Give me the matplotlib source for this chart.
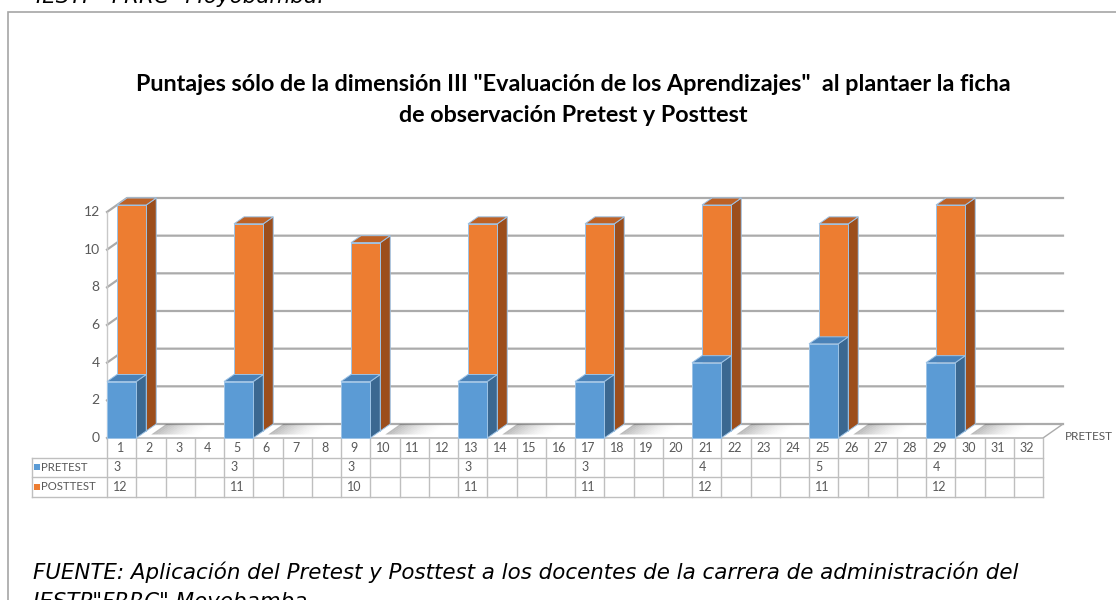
import matplotlib
matplotlib.use("Agg")
import matplotlib.pyplot as plt
from matplotlib.patches import Polygon, Rectangle

# data
categories = [str(i) for i in range(1, 33)]
pretest = [3, None, None, None, 3, None, None, None, 3, None, None, None,
           3, None, None, None, 3, None, None, None, 4, None, None, None,
           5, None, None, None, 4, None, None, None]
posttest = [12, None, None, None, 11, None, None, None, 10, None, None, None,
            11, None, None, None, 11, None, None, None, 12, None, None, None,
            11, None, None, None, 12, None, None, None]
series_names = ["PRETEST", "POSTTEST"]
y_ticks = [0, 2, 4, 6, 8, 10, 12]

title = ('Puntajes sólo de la dimensión III "Evaluación de los Aprendizajes"  al plantaer la ficha\n'
         'de observación Pretest y Posttest')
caption1 = "FUENTE: Aplicación del Pretest y Posttest a los docentes de la carrera de administración del"
caption2 = 'IESTP"FRRC" Moyobamba'
header_text = 'IESTP "FRRC" Moyobamba.'

# colours: front, side, top
blue = ("#5B9BD5", "#3B6891", "#4A82B8")
orange = ("#ED7D31", "#9C4E1C", "#BD6125")
edge = "#9DC3E6"
grid_c = "#ABABAB"
txt_c = "#595959"

W, H = 1116, 600
fig = plt.figure(figsize=(W / 100, H / 100), dpi=100)

# outer frame of the pasted chart
fig.add_artist(Rectangle((8 / W, -0.05), 1.2, 1 - 12 / H + 0.05, transform=fig.transFigure,
                         fill=False, edgecolor="#A6A6A6", linewidth=1.2))

# pixel layout of the plot
px_left, px_right = 107, 1043   # front edge of floor
px_zero, px_top = 438, 212      # value 0 and value 12 on front plane
sx = (px_right - px_left) / len(categories)
sy = (px_zero - px_top) / 12.0
ax_l, ax_r, ax_t, ax_b = 20, 1110, 180, 510
ax = fig.add_axes([ax_l / W, 1 - ax_b / H, (ax_r - ax_l) / W, (ax_b - ax_t) / H])
ax.set_xlim(0.5 - (px_left - ax_l) / sx, 32.5 + (ax_r - px_right) / sx)
ax.set_ylim(-(ax_b - px_zero) / sy, (px_zero - ax_t) / sy)
ax.axis("off")

dx, dy = 10 / sx, 7 / sy   # depth step of one series row
n = len(categories)
x0, x1 = 0.5, n + 0.5
font = "Lato"

# floor and left wall
ax.add_patch(Polygon([(x0, 0), (x1, 0), (x1 + 2 * dx, 2 * dy), (x0 + 2 * dx, 2 * dy)],
                     closed=True, facecolor="white", edgecolor=grid_c, linewidth=1.0, zorder=1))
for v in y_ticks:
    ax.plot([x0, x0 + 2 * dx, x1 + 2 * dx], [v, v + 2 * dy, v + 2 * dy],
            color=grid_c, linewidth=1.6, zorder=1)
    ax.text(x0 - 0.25, v, str(v), ha="right", va="center", fontsize=10,
            color=txt_c, family=font)
ax.plot([x0, x0], [0, y_ticks[-1]], color="#C8C8C8", linewidth=1.0, zorder=1)
ax.plot([x0 + 2 * dx, x0 + 2 * dx], [2 * dy, y_ticks[-1] + 2 * dy],
        color="#C8C8C8", linewidth=1.0, zorder=1)


def draw_bar(xc, v, k, cols, z):
    bx = xc - 0.5 + k * dx
    by = k * dy
    front = [(bx, by), (bx + 1, by), (bx + 1, by + v), (bx, by + v)]
    side = [(bx + 1, by), (bx + 1 + dx, by + dy), (bx + 1 + dx, by + v + dy), (bx + 1, by + v)]
    top = [(bx, by + v), (bx + 1, by + v), (bx + 1 + dx, by + v + dy), (bx + dx, by + v + dy)]
    for pts, c in ((side, cols[1]), (top, cols[2]), (front, cols[0])):
        ax.add_patch(Polygon(pts, closed=True, facecolor=c, edgecolor=edge,
                             linewidth=0.7, zorder=z))


def draw_shadow(xc):
    steps = 16
    length = 1.6
    for j in range(steps):
        a = 0.4 * (1 - j / steps) ** 1.6
        xa = xc + 0.5 + dx + j * length / steps
        xb = xa + length / steps
        ax.add_patch(Polygon([(xa + 0.5 * dx, 0.5 * dy), (xb + 0.5 * dx, 0.5 * dy),
                              (xb + 2 * dx, 2 * dy), (xa + 2 * dx, 2 * dy)],
                             closed=True, facecolor="#555555", alpha=a,
                             edgecolor="none", zorder=2))
    for j in range(8):
        a = 0.15 * (j / 8)
        xb = xc - 0.5 + dx - (7 - j) * 0.08
        xa = xb - 0.08
        ax.add_patch(Polygon([(xa + 0.5 * dx, 0.5 * dy), (xb + 0.5 * dx, 0.5 * dy),
                              (xb + 2 * dx, 2 * dy), (xa + 2 * dx, 2 * dy)],
                             closed=True, facecolor="#777777", alpha=a,
                             edgecolor="none", zorder=2))


for i, (p, q) in enumerate(zip(pretest, posttest)):
    xc = i + 1
    if q is not None:
        draw_shadow(xc)
        draw_bar(xc, q, 1, orange, 3)
    if p is not None:
        draw_bar(xc, p, 0, blue, 4)

# depth axis label
ax.text(x1 + 2 * dx + 0.05, 0.1, series_names[0], ha="left", va="center",
        fontsize=8.5, color=txt_c, family=font)

# data table
rh = 1.04
tl = 0.5 - (px_left - 32) / sx
tab_c = "#BFBFBF"
for r in (1, 2, 3):
    ax.plot([tl, x1], [-r * rh, -r * rh], color=tab_c, linewidth=1.0, zorder=1)
for k in range(n + 1):
    ax.plot([k + 0.5, k + 0.5], [0, -3 * rh], color=tab_c, linewidth=1.0, zorder=1)
ax.plot([tl, tl], [-rh, -3 * rh], color=tab_c, linewidth=1.0, zorder=1)

for i, c in enumerate(categories):
    xc = i + 1
    ax.text(xc - 0.05, -0.5 * rh, c, ha="center", va="center", fontsize=9,
            color=txt_c, family=font)
    if pretest[i] is not None:
        ax.text(xc - 0.15, -1.5 * rh, str(pretest[i]), ha="center", va="center",
                fontsize=9, color=txt_c, family=font)
    if posttest[i] is not None:
        ax.text(xc - 0.05, -2.5 * rh, str(posttest[i]), ha="center", va="center",
                fontsize=9, color=txt_c, family=font)

for r, (name, cols) in enumerate(zip(series_names, (blue, orange))):
    yc = -(1.5 + r) * rh
    ax.add_patch(Rectangle((tl + 0.06, yc - 0.16), 0.2, 0.32, facecolor=cols[0],
                           edgecolor="none", zorder=3))
    ax.text(tl + 0.32, yc, name, ha="left", va="center", fontsize=8.2,
            color=txt_c, family=font)

# title and surrounding document text
fig.text(573 / W, 1 - 100 / H, title, ha="center", va="center", fontsize=16.8,
         fontweight="bold", family=font, color="black", linespacing=1.55)
doc_font = "DejaVu Sans"
fig.text(33 / W, 1 - 579 / H, caption1, ha="left", va="baseline", fontsize=15.4,
         style="italic", family=doc_font, color="black")
fig.text(33 / W, 1 - 608 / H, caption2, ha="left", va="baseline", fontsize=15.4,
         style="italic", family=doc_font, color="black")
fig.text(36 / W, 1 - 3 / H, header_text, ha="left", va="baseline", fontsize=15.4,
         style="italic", family=doc_font, color="black")

fig.savefig("out.png", dpi=100)
